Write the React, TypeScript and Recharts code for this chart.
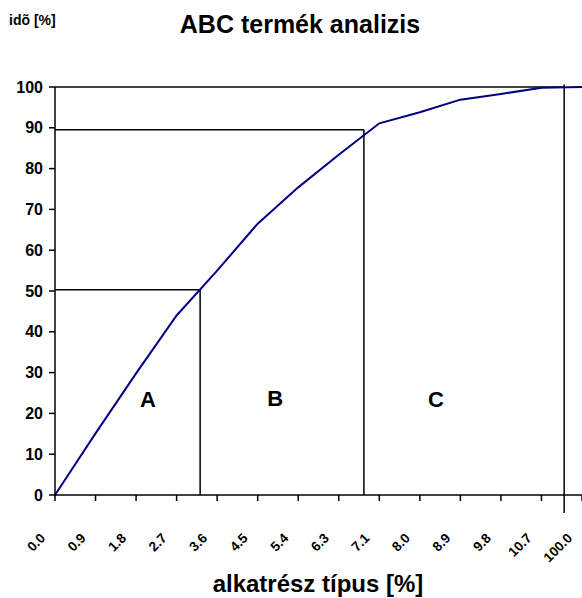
import React from "react";
import {
  LineChart,
  Line,
  XAxis,
  YAxis,
  ReferenceLine,
  ReferenceDot,
  Customized,
} from "recharts";

// ---- data ----
const categoryIndex = [0, 1, 2, 3, 4, 5, 6, 7, 8, 9, 10, 11, 12, 13];
const xTickLabels = [
  "0.0", "0.9", "1.8", "2.7", "3.6", "4.5", "5.4",
  "6.3", "7.1", "8.0", "8.9", "9.8", "10.7", "100.0",
];
const cumulativeTime = [
  0, 15.1, 29.8, 44.0, 55.0, 66.5, 75.4, 83.4, 91.1, 93.8, 96.9, 98.3, 99.8, 100,
];
const yTicks = [0, 10, 20, 30, 40, 50, 60, 70, 80, 90, 100];

// ABC boundaries (x in category-index units, y in %)
const boundaryX = [3.58, 7.62, 12.56];
const boundaryY = [50.3, 89.5, 100];
const endLineBottom = -4.4;

const zoneNames = ["A", "B", "C"];
const zoneX = [2.29, 5.43, 9.4];
const zoneY = [23.4, 23.8, 23.4];

const title = "ABC termék analizis";
const yTitle = "idõ [%]";
const xTitle = "alkatrész típus [%]";

const data = categoryIndex.map((i, k) => ({ idx: i, value: cumulativeTime[k] }));

const FONT = "'Liberation Sans', Arial, Helvetica, sans-serif";

const XTick = (props: any) => {
  const { x, y, payload } = props;
  const label = xTickLabels[payload.value] ?? "";
  const ax = x - 9;
  const ay = y + 36;
  return (
    <text
      x={ax}
      y={ay}
      textAnchor="end"
      transform={`rotate(-45, ${ax}, ${ay})`}
      fontFamily={FONT}
      fontWeight="bold"
      fontSize={13.5}
      fill="#000"
    >
      {label}
    </text>
  );
};

const YTick = (props: any) => {
  const { x, y, payload } = props;
  return (
    <text
      x={x}
      y={y}
      dy={5.5}
      textAnchor="end"
      fontFamily={FONT}
      fontWeight="bold"
      fontSize={16}
      fill="#000"
    >
      {payload.value}
    </text>
  );
};

const Titles = () => (
  <g fontFamily={FONT} fontWeight="bold" fill="#000">
    <text x={300} y={33} textAnchor="middle" fontSize={25}>
      {title}
    </text>
    <text x={9} y={25} textAnchor="start" fontSize={14}>
      {yTitle}
    </text>
    <text x={318} y={592} textAnchor="middle" fontSize={24}>
      {xTitle}
    </text>
  </g>
);

export default function App() {
  return (
    <div style={{ position: "absolute", left: 0, top: 0, background: "#fff" }}>
      <LineChart
        width={582}
        height={598}
        data={data}
        margin={{ top: 87, right: 0, bottom: 0, left: 0 }}
      >
        <XAxis
          dataKey="idx"
          type="number"
          domain={[0, 13]}
          ticks={categoryIndex}
          interval={0}
          height={103}
          tick={<XTick />}
          tickSize={6}
          tickLine={{ stroke: "#000", strokeWidth: 1.5 }}
          axisLine={{ stroke: "#000", strokeWidth: 1.5 }}
        />
        <YAxis
          type="number"
          domain={[0, 100]}
          ticks={yTicks}
          interval={0}
          width={55}
          tick={<YTick />}
          tickSize={6}
          tickMargin={6}
          tickLine={{ stroke: "#000", strokeWidth: 1.5 }}
          axisLine={{ stroke: "#000", strokeWidth: 1.5 }}
        />
        {/* A zone box */}
        <ReferenceLine
          segment={[{ x: 0, y: boundaryY[0] }, { x: boundaryX[0], y: boundaryY[0] }]}
          stroke="#000"
          strokeWidth={1.5}
        />
        <ReferenceLine
          segment={[{ x: boundaryX[0], y: 0 }, { x: boundaryX[0], y: boundaryY[0] }]}
          stroke="#000"
          strokeWidth={1.5}
        />
        {/* B zone box */}
        <ReferenceLine
          segment={[{ x: 0, y: boundaryY[1] }, { x: boundaryX[1], y: boundaryY[1] }]}
          stroke="#000"
          strokeWidth={1.5}
        />
        <ReferenceLine
          segment={[{ x: boundaryX[1], y: 0 }, { x: boundaryX[1], y: boundaryY[1] }]}
          stroke="#000"
          strokeWidth={1.5}
        />
        {/* C / total */}
        <ReferenceLine
          segment={[{ x: 0, y: boundaryY[2] }, { x: boundaryX[2], y: boundaryY[2] }]}
          stroke="#000"
          strokeWidth={1.5}
          ifOverflow="visible"
        />
        <ReferenceLine
          segment={[{ x: boundaryX[2], y: endLineBottom }, { x: boundaryX[2], y: boundaryY[2] + 0.6 }]}
          stroke="#000"
          strokeWidth={1.5}
          ifOverflow="visible"
        />
        <Line
          type="linear"
          dataKey="value"
          stroke="#000080"
          strokeWidth={2}
          dot={false}
          activeDot={false}
          isAnimationActive={false}
        />
        {zoneNames.map((n, i) => (
          <ReferenceDot
            key={n}
            x={zoneX[i]}
            y={zoneY[i]}
            r={1}
            fill="none"
            stroke="none"
            label={{
              value: n,
              position: "center",
              fontFamily: FONT,
              fontWeight: "bold",
              fontSize: 22,
              fill: "#000",
            }}
          />
        ))}
        <Customized component={Titles} />
      </LineChart>
    </div>
  );
}
